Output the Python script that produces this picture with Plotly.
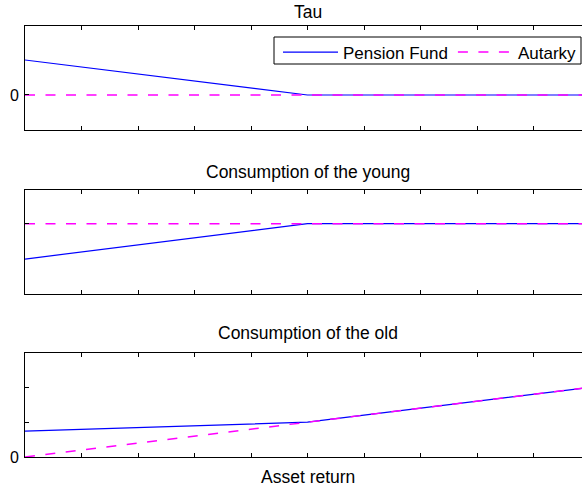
import plotly.graph_objects as go
from plotly.subplots import make_subplots

asset_return = [0, 1, 2, 3, 4, 5, 6, 7, 8, 9, 10]

tau_pension = [1.0, 0.8, 0.6, 0.4, 0.2, 0.0, 0.0, 0.0, 0.0, 0.0, 0.0]
tau_autarky = [0.0, 0.0, 0.0, 0.0, 0.0, 0.0, 0.0, 0.0, 0.0, 0.0, 0.0]

young_pension = [0.0, 0.2, 0.4, 0.6, 0.8, 1.0, 1.0, 1.0, 1.0, 1.0, 1.0]
young_autarky = [1.0, 1.0, 1.0, 1.0, 1.0, 1.0, 1.0, 1.0, 1.0, 1.0, 1.0]

old_pension = [0.74, 0.79, 0.84, 0.9, 0.95, 1.0, 1.2, 1.4, 1.6, 1.8, 2.0]
old_autarky = [0.0, 0.2, 0.4, 0.6, 0.8, 1.0, 1.2, 1.4, 1.6, 1.8, 2.0]

titles = ["Tau", "Consumption of the young", "Consumption of the old"]
xlabel = "Asset return"
series_names = ["Pension Fund", "Autarky"]

FONT = "Liberation Sans, Arial, Helvetica, sans-serif"
W, H = 582, 493
L, R, T, B = 25, 0, 26, 36
pw = W - L - R
ph = H - T - B

def py(px):
    return (H - B - px) / ph

def pxx(px):
    return (px - L) / pw

fig = make_subplots(rows=3, cols=1)

panels = [
    (tau_pension, tau_autarky),
    (young_pension, young_autarky),
    (old_pension, old_autarky),
]
blue = "#0000ff"
mag = "#ff00ff"
for i, (pf, au) in enumerate(panels):
    fig.add_trace(go.Scatter(x=asset_return, y=pf, mode="lines", name=series_names[0],
                             line=dict(color=blue, width=1.2), showlegend=(i == 0)),
                  row=i + 1, col=1)
    fig.add_trace(go.Scatter(x=asset_return, y=au, mode="lines", name=series_names[1],
                             line=dict(color=mag, width=1.5, dash="10px,10.5px"), showlegend=(i == 0)),
                  row=i + 1, col=1)

domains = [
    [py(130), py(26)],
    [py(294), py(190)],
    [py(457), py(353)],
]
yranges = [[-1.0, 1.971], [-0.99, 1.955], [0, 2.985]]
yticks = [[0], [1], [0, 1, 2]]
yticktext = [["0"], [""], ["0", "", ""]]

xr = [0, pw / 56.5]
for i in range(3):
    n = "" if i == 0 else str(i + 1)
    fig.layout["xaxis" + n].update(
        range=xr, domain=[0, 1], showline=True, linecolor="black", linewidth=1,
        mirror="ticks", ticks="inside", ticklen=4, tickcolor="black",
        tickvals=asset_return, showticklabels=False, showgrid=False, zeroline=False,
        automargin=False,
    )
    fig.layout["yaxis" + n].update(
        range=yranges[i], domain=domains[i], showline=True, linecolor="black", linewidth=1,
        mirror=False, ticks="inside", ticklen=4, tickcolor="black",
        tickvals=yticks[i], ticktext=yticktext[i], showgrid=False, zeroline=False,
        tickfont=dict(size=16, color="black", family=FONT), automargin=False, ticklabelstandoff=2,
    )

cx = pxx(307.5)
ann = []
for t, ypx in zip(titles, [11.5, 172, 333]):
    ann.append(dict(text=t, x=cx, y=py(ypx), xref="paper", yref="paper",
                    xanchor="center", yanchor="middle", showarrow=False,
                    font=dict(size=17.5, color="black", family=FONT)))
ann.append(dict(text=xlabel, x=cx, y=py(477), xref="paper", yref="paper",
                xanchor="center", yanchor="middle", showarrow=False,
                font=dict(size=17.5, color="black", family=FONT)))

# legend frame
fig.add_shape(type="rect", xref="paper", yref="paper",
              x0=pxx(274), x1=pxx(581), y0=py(64), y1=py(37),
              line=dict(color="black", width=1), fillcolor="white", layer="below")

fig.update_layout(
    width=W, height=H,
    margin=dict(l=L, r=R, t=T, b=B, autoexpand=False),
    paper_bgcolor="white", plot_bgcolor="white",
    annotations=ann,
    legend=dict(orientation="h", x=pxx(582), y=py(34.5), xanchor="right", yanchor="top",
                borderwidth=0, bgcolor="rgba(0,0,0,0)", itemwidth=55,
                font=dict(size=17, color="black", family=FONT)),
    font=dict(family=FONT, color="black"),
)

fig.write_html("out.html", config={"displayModeBar": False},
               post_script="document.body.style.margin='0px';document.body.style.overflow='hidden';")
